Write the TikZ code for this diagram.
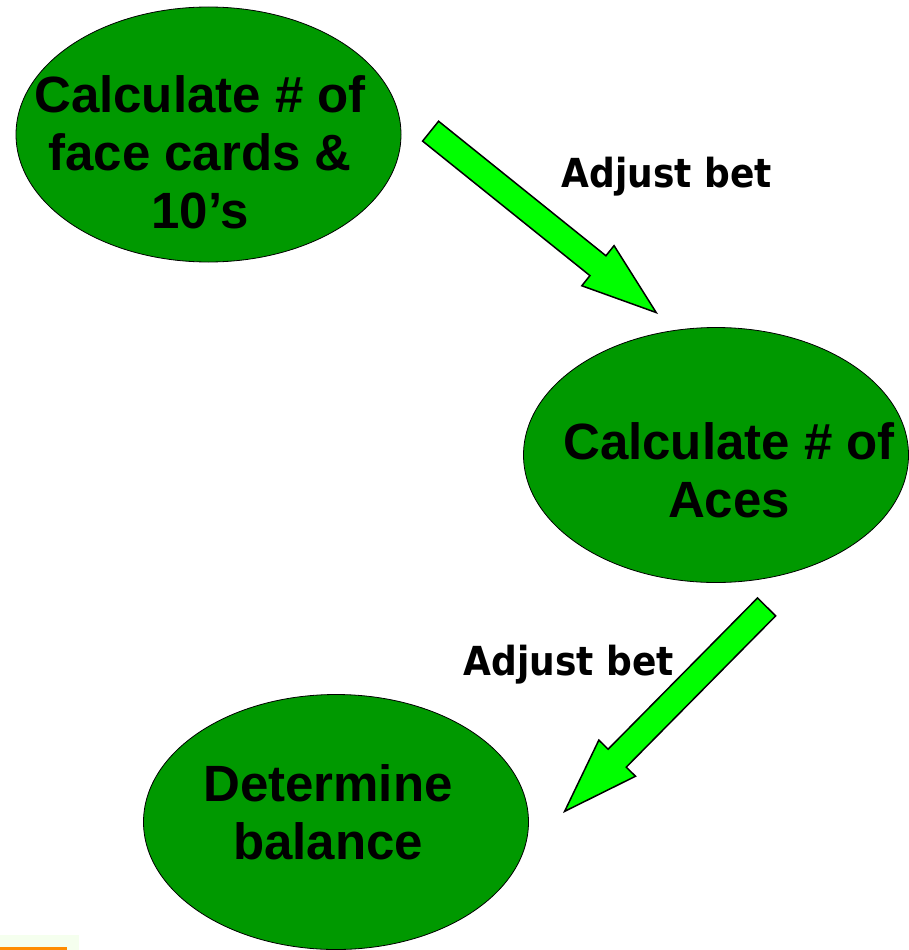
\documentclass[tikz,border=0pt]{standalone}
\usepackage{fontspec}
\setmainfont{Liberation Sans}
\newfontfamily\betfont[FakeStretch=0.9]{DejaVu Sans}
\usepackage{tikz}
\usetikzlibrary{shapes.geometric,shapes.arrows}
\definecolor{ovalgreen}{RGB}{0,153,0}
\definecolor{arrowgreen}{RGB}{0,255,0}
\definecolor{barorange}{RGB}{255,140,0}
\definecolor{palegreen}{RGB}{245,255,238}

\tikzset{
    oval/.style={
        ellipse, draw=black, line width=0.8pt, fill=ovalgreen,
        minimum width=385pt, minimum height=255pt, inner sep=0pt
    },
    ovaltext/.style={
        align=center, inner sep=0pt,
        font=\fontsize{51}{58}\selectfont\bfseries
    },
    betlabel/.style={
        anchor=base, inner sep=0pt,
        font=\betfont\fontsize{40}{46}\selectfont\bfseries
    },
    fatarrow/.style={
        single arrow, draw=black, line width=1.5pt, fill=arrowgreen,
        inner xsep=0pt, inner ysep=12pt, minimum width=50pt,
        single arrow head extend=13pt, single arrow tip angle=38,
        anchor=tip
    }
}

\begin{document}
\begin{tikzpicture}[x=1pt, y=-1pt]

    \useasboundingbox (0,0) rectangle (908,950);

    % Ovale
    \node[oval] (faces) at (208.5,134.5) {};
    \node[ovaltext] (facesText) at (200,152.5) {Calculate \# of\\face cards \&\\10’s};

    \node[oval] (aces) at (716,455) {};
    \node[ovaltext] (acesText) at (729,470) {Calculate \# of\\Aces};

    \node[oval] (balance) at (336,822) {};
    \node[ovaltext] (balanceText) at (328,812.5) {Determine\\balance};

    % Fletxes
    \node[fatarrow, minimum height=289.5pt, rotate=-38.8]
        (betA) at (658,314) {};
    \node[fatarrow, minimum height=287.4pt, rotate=-134.65]
        (betB) at (563,813) {};

    % Etiquetes
    \node[betlabel] (betAText) at (667,187) {Adjust bet};
    \node[betlabel] (betBText) at (569,675) {Adjust bet};

    % Barra
    \fill[palegreen] (0,935) rectangle (79,950);
    \fill[barorange] (0,947) rectangle (67,950);

\end{tikzpicture}
\end{document}
